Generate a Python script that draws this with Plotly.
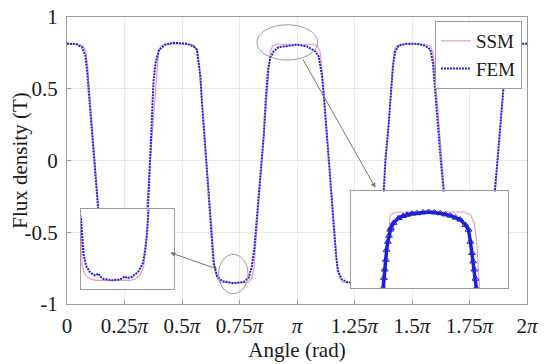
import plotly.graph_objects as go

# ---------------- data (angle in units of pi, flux density in T) ----------------
FEM_X = [0.000, 0.020, 0.043, 0.065, 0.080, 0.087, 0.094, 0.106, 0.116, 0.124, 0.135, 0.142,
         0.150, 0.165, 0.185, 0.235, 0.290, 0.320, 0.335, 0.345, 0.352, 0.360, 0.368, 0.376,
         0.385, 0.400, 0.427, 0.463, 0.522, 0.550, 0.565, 0.572, 0.580, 0.587, 0.597, 0.604,
         0.616, 0.627, 0.637, 0.652, 0.674, 0.724, 0.768, 0.790, 0.804, 0.814, 0.826, 0.837,
         0.848, 0.855, 0.865, 0.874, 0.884, 0.898, 0.920, 0.957, 1.000, 1.043, 1.080, 1.094,
         1.109, 1.119, 1.130, 1.137, 1.148, 1.159, 1.170, 1.178, 1.196, 1.217, 1.260, 1.300,
         1.330, 1.350, 1.362, 1.372, 1.378, 1.384, 1.398, 1.409, 1.417, 1.427, 1.442, 1.478,
         1.522, 1.558, 1.580, 1.591, 1.601, 1.611, 1.625, 1.637, 1.650, 1.660, 1.675, 1.700,
         1.750, 1.790, 1.815, 1.830, 1.840, 1.852, 1.862, 1.866, 1.870, 1.884, 1.896, 1.906,
         1.920, 1.940, 1.970, 2.000]
FEM_Y = [0.815, 0.815, 0.810, 0.790, 0.730, 0.630, 0.490, 0.285, 0.077, -0.060, -0.330, -0.550,
         -0.710, -0.805, -0.840, -0.856, -0.847, -0.816, -0.735, -0.600, -0.340, 0.000, 0.300, 0.550,
         0.680, 0.770, 0.807, 0.820, 0.814, 0.795, 0.772, 0.700, 0.587, 0.400, 0.170, 0.000,
         -0.270, -0.550, -0.710, -0.805, -0.840, -0.856, -0.847, -0.816, -0.735, -0.620, -0.390, -0.155,
         0.000, 0.170, 0.447, 0.633, 0.715, 0.760, 0.790, 0.800, 0.807, 0.795, 0.760, 0.726,
         0.587, 0.400, 0.170, -0.030, -0.270, -0.500, -0.666, -0.770, -0.830, -0.847, -0.855, -0.850,
         -0.816, -0.735, -0.620, -0.390, -0.210, 0.000, 0.240, 0.470, 0.656, 0.760, 0.800, 0.814,
         0.814, 0.800, 0.772, 0.680, 0.470, 0.240, 0.000, -0.200, -0.500, -0.700, -0.805, -0.840,
         -0.855, -0.845, -0.810, -0.730, -0.600, -0.380, -0.150, -0.080, 0.000, 0.240, 0.470, 0.656,
         0.760, 0.800, 0.812, 0.815]

SSM_X = [0.000, 0.052, 0.070, 0.082, 0.090, 0.122, 0.157, 0.167, 0.182,
         0.302, 0.317, 0.327, 0.362, 0.390, 0.398, 0.408, 0.426,
         0.537, 0.555, 0.567, 0.575, 0.607, 0.642, 0.652, 0.667,
         0.788, 0.803, 0.813, 0.848, 0.876, 0.884, 0.894, 0.912,
         1.070, 1.088, 1.100, 1.108, 1.140, 1.175, 1.185, 1.200,
         1.326, 1.341, 1.351, 1.386, 1.414, 1.422, 1.432, 1.450,
         1.560, 1.578, 1.590, 1.598, 1.630, 1.665, 1.675, 1.690,
         1.812, 1.827, 1.837, 1.872, 1.900, 1.908, 1.918, 1.936, 2.000]
SSM_Y = [0.81, 0.81, 0.80, 0.76, 0.65, 0.00, -0.74, -0.82, -0.85,
         -0.85, -0.82, -0.74, 0.00, 0.65, 0.76, 0.80, 0.81,
         0.81, 0.80, 0.76, 0.65, 0.00, -0.74, -0.82, -0.85,
         -0.85, -0.82, -0.74, 0.00, 0.65, 0.76, 0.80, 0.81,
         0.81, 0.80, 0.76, 0.65, 0.00, -0.74, -0.82, -0.85,
         -0.85, -0.82, -0.74, 0.00, 0.65, 0.76, 0.80, 0.81,
         0.81, 0.80, 0.76, 0.65, 0.00, -0.74, -0.82, -0.85,
         -0.85, -0.82, -0.74, 0.00, 0.65, 0.76, 0.80, 0.81, 0.81]

# zoomed views (insets)
FEM_ZOOM_BOTTOM_X = [0.600, 0.603, 0.607, 0.614, 0.625, 0.638, 0.647, 0.652, 0.661, 0.683,
                     0.705, 0.718, 0.723, 0.737, 0.754, 0.766, 0.772, 0.777, 0.781]
FEM_ZOOM_BOTTOM_Y = [-0.721, -0.770, -0.803, -0.829, -0.844, -0.850, -0.846, -0.853, -0.858, -0.861,
                     -0.859, -0.852, -0.856, -0.853, -0.841, -0.822, -0.792, -0.755, -0.702]
SSM_ZOOM_BOTTOM_X = [0.600, 0.601, 0.603, 0.612, 0.625, 0.638, 0.732, 0.746, 0.759, 0.768,
                     0.773, 0.777, 0.780]
SSM_ZOOM_BOTTOM_Y = [-0.713, -0.770, -0.829, -0.850, -0.858, -0.861, -0.861, -0.858, -0.848, -0.829,
                     -0.792, -0.747, -0.702]

FEM_ZOOM_TOP_X = [0.882, 0.884, 0.886, 0.889, 0.891, 0.894, 0.897, 0.900, 0.902, 0.909, 0.922,
                  0.933, 0.943, 0.956, 0.969, 0.984, 0.998, 1.013, 1.028, 1.041, 1.054, 1.067,
                  1.079, 1.092, 1.100, 1.105, 1.109, 1.112, 1.115, 1.118, 1.120]
FEM_ZOOM_TOP_Y = [0.620, 0.645, 0.666, 0.690, 0.715, 0.735, 0.750, 0.765, 0.769, 0.782, 0.794,
                  0.799, 0.802, 0.805, 0.806, 0.808, 0.809, 0.808, 0.806, 0.803, 0.800, 0.795,
                  0.790, 0.777, 0.765, 0.735, 0.707, 0.686, 0.666, 0.643, 0.620]
SSM_ZOOM_TOP_X = [0.886, 0.890, 0.895, 0.900, 0.907, 0.922, 1.088, 1.105, 1.115, 1.122, 1.125, 1.128]
SSM_ZOOM_TOP_Y = [0.620, 0.690, 0.748, 0.798, 0.806, 0.809, 0.809, 0.802, 0.782, 0.723, 0.666, 0.620]

X_TICKS = [0, 0.25, 0.5, 0.75, 1, 1.25, 1.5, 1.75, 2]
X_TICK_TEXT = ["0", "0.25<i>π</i>", "0.5<i>π</i>", "0.75<i>π</i>", "<i>π</i>",
               "1.25<i>π</i>", "1.5<i>π</i>", "1.75<i>π</i>", "2<i>π</i>"]
Y_TICKS = [-1, -0.5, 0, 0.5, 1]
Y_TICK_TEXT = ["-1", "-0.5", "0", "0.5", "1"]

# ---------------- styling ----------------
FONT = "Liberation Serif"
PINK = "#e59ac9"
BLUE = "#1f1fd6"
GRID = "#e8e8e8"
FRAME = "#9a9a9a"
FS = 21

fig = go.Figure()

fig.add_trace(go.Scatter(x=SSM_X, y=SSM_Y, mode="lines", name="SSM",
                         line=dict(color=PINK, width=1.2)))
fig.add_trace(go.Scatter(x=FEM_X, y=FEM_Y, mode="lines", name="FEM",
                         line=dict(color=BLUE, width=2, dash="2px,1px")))

# bottom inset (xaxis2 / yaxis2)
fig.add_trace(go.Scatter(x=SSM_ZOOM_BOTTOM_X, y=SSM_ZOOM_BOTTOM_Y, mode="lines", showlegend=False,
                         line=dict(color=PINK, width=1.2), xaxis="x2", yaxis="y2"))
fig.add_trace(go.Scatter(x=FEM_ZOOM_BOTTOM_X, y=FEM_ZOOM_BOTTOM_Y, mode="lines", showlegend=False,
                         line=dict(color=BLUE, width=2, dash="2px,1px"), xaxis="x2", yaxis="y2"))

# top inset (xaxis3 / yaxis3)
fig.add_trace(go.Scatter(x=SSM_ZOOM_TOP_X, y=SSM_ZOOM_TOP_Y, mode="lines", showlegend=False,
                         line=dict(color=PINK, width=1.2), xaxis="x3", yaxis="y3"))
fig.add_trace(go.Scatter(x=FEM_ZOOM_TOP_X, y=FEM_ZOOM_TOP_Y, mode="lines+markers", showlegend=False,
                         line=dict(color=BLUE, width=3.5),
                         marker=dict(symbol="triangle-up-open", size=6, color=BLUE, line=dict(width=1)),
                         xaxis="x3", yaxis="y3"))

inset_axis = dict(showgrid=False, zeroline=False, showticklabels=False, ticks="",
                  showline=True, mirror=True, linecolor=FRAME, linewidth=1, automargin=False)

# the page body adds an 8px offset, so the figure is 8px smaller than the window
fig.update_layout(
    width=542, height=356,
    margin=dict(l=59, r=23, t=9, b=60, autoexpand=False),
    paper_bgcolor="white", plot_bgcolor="white",
    font=dict(family=FONT, size=FS, color="#1a1a1a"),
    xaxis=dict(range=[0, 2], tickvals=X_TICKS, ticktext=X_TICK_TEXT,
               showgrid=True, gridcolor=GRID, gridwidth=1, zeroline=False,
               showline=True, mirror=True, linecolor=FRAME, linewidth=1,
               ticks="inside", ticklen=4, tickcolor=FRAME, ticklabelstandoff=3,
               ticklabeloverflow="allow",
               tickfont=dict(size=FS), automargin=False,
               title=dict(text="Angle (rad)", font=dict(size=FS), standoff=0)),
    yaxis=dict(range=[-1, 1], tickvals=Y_TICKS, ticktext=Y_TICK_TEXT,
               showgrid=True, gridcolor=GRID, gridwidth=1, zeroline=False,
               showline=True, mirror=True, linecolor=FRAME, linewidth=1,
               ticks="inside", ticklen=4, tickcolor=FRAME, ticklabelstandoff=4,
               ticklabeloverflow="allow",
               tickfont=dict(size=FS), automargin=False,
               title=dict(text="Flux density (T)", font=dict(size=FS), standoff=2)),
    xaxis2=dict(domain=[0.0304, 0.2333], range=[0.6, 0.85], anchor="y2", **inset_axis),
    yaxis2=dict(domain=[0.053, 0.332], range=[-0.88, -0.70], anchor="x2", **inset_axis),
    xaxis3=dict(domain=[0.6174, 0.9578], range=[0.8, 1.2], anchor="y3", **inset_axis),
    yaxis3=dict(domain=[0.056, 0.392], range=[0.62, 0.86], anchor="x3", **inset_axis),
    legend=dict(x=0.989, xanchor="right", y=0.986, yanchor="top",
                bgcolor="white", bordercolor=FRAME, borderwidth=1,
                font=dict(family=FONT, size=19), itemwidth=30, tracegroupgap=0),
    showlegend=True,
)

# highlight ellipses (in main-axis data coordinates)
fig.add_shape(type="circle", xref="x", yref="y", x0=0.826, x1=1.090, y0=0.700, y1=0.946,
              line=dict(color=FRAME, width=1))
fig.add_shape(type="circle", xref="x", yref="y", x0=0.659, x1=0.787, y0=-0.928, y1=-0.654,
              line=dict(color=FRAME, width=1))

# pointer arrows
fig.add_annotation(x=1.341, y=-0.190, ax=1.022, ay=0.715, xref="x", yref="y", axref="x", ayref="y",
                   text="", showarrow=True, arrowhead=2, arrowsize=1, arrowwidth=1, arrowcolor="#777777")
fig.add_annotation(x=0.449, y=-0.642, ax=0.658, ay=-0.759, xref="x", yref="y", axref="x", ayref="y",
                   text="", showarrow=True, arrowhead=2, arrowsize=1, arrowwidth=1, arrowcolor="#777777")

fig.write_html("out.html")
